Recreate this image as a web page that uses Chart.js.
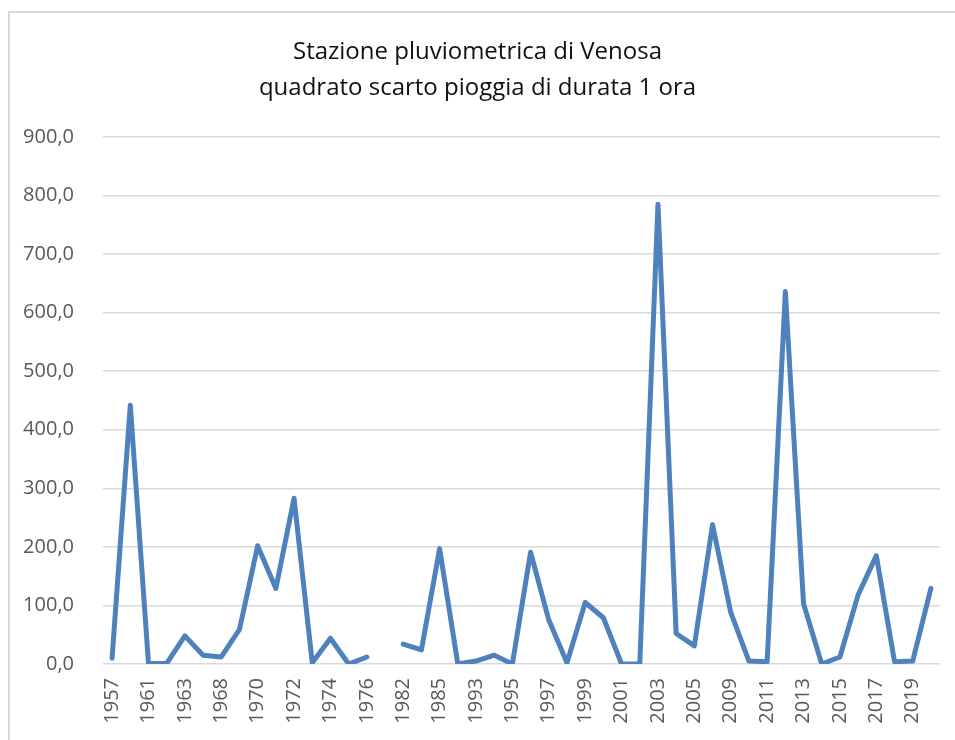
<!DOCTYPE html>
<html>
<head>
<meta charset="utf-8">
<script src="https://cdn.jsdelivr.net/npm/chart.js@4.4.0/dist/chart.umd.min.js"></script>
<style>
  html, body { margin: 0; padding: 0; background: #fff; }
  #wrap { position: relative; width: 955px; height: 740px; overflow: hidden; }
  #frame { position: absolute; left: 8px; top: 11px; width: 960px; height: 760px;
           border-left: 2px solid #d9d9d9; border-top: 2px solid #d9d9d9; }
  #chart { position: absolute; left: 0; top: 0; }
</style>
</head>
<body>
<div id="wrap">
  <div id="frame"></div>
  <canvas id="chart" width="955" height="740"></canvas>
</div>
<script>
// Anni (solo quelli pari in posizione vengono mostrati sull'asse)
const anni = [
  '1957', '1958', '1961', '1962', '1963', '1964', '1968', '1969', '1970', '1971',
  '1972', '1973', '1974', '1975', '1976', '1977', '1982', '1983', '1985', '1986',
  '1993', '1994', '1995', '1996', '1997', '1998', '1999', '2000', '2001', '2002',
  '2003', '2004', '2005', '2006', '2009', '2010', '2011', '2012', '2013', '2014',
  '2015', '2016', '2017', '2018', '2019', '2020'
];

// Quadrato dello scarto
const scartoQuadrato = [
  10, 442, 1, 1, 48, 15, 12, 59, 202, 129,
  283, 2, 44, 0, 12, null, 34, 24, 197, 0,
  5, 15, 0, 191, 75, 2, 105, 79, 0, 0,
  785, 52, 31, 238, 88, 5, 4, 636, 103, 0,
  12, 118, 185, 4, 5, 129
];

const titolo = ['Stazione pluviometrica di Venosa', 'quadrato scarto pioggia di durata 1 ora'];

const font = '"Open Sans", sans-serif';

const ctx = document.getElementById('chart').getContext('2d');
new Chart(ctx, {
  type: 'line',
  data: {
    labels: anni,
    datasets: [{
      data: scartoQuadrato,
      borderColor: '#4f81bd',
      borderWidth: 5,
      pointRadius: 0,
      tension: 0,
      spanGaps: false,
      borderCapStyle: 'round',
      borderJoinStyle: 'round'
    }]
  },
  options: {
    responsive: false,
    animation: false,
    layout: { padding: { left: 15, right: 15, top: 0, bottom: 0 } },
    plugins: {
      legend: { display: false },
      tooltip: { enabled: false },
      title: {
        display: true,
        text: titolo,
        color: '#111',
        font: { family: font, size: 24, weight: 'normal', lineHeight: 1.5 },
        padding: { top: 34, bottom: 31 }
      }
    },
    scales: {
      x: {
        offset: true,
        grid: { display: false, drawTicks: false },
        border: { display: false },
        ticks: {
          autoSkip: false,
          maxRotation: 90,
          minRotation: 90,
          padding: 14,
          color: '#595959',
          font: { family: font, size: 20 },
          callback: function (v, i) { return i % 2 === 0 ? anni[i] : ''; }
        },
        afterFit: function (scale) {
          scale.height = 76;
          scale.paddingLeft = 0;
          scale.paddingRight = 0;
        }
      },
      y: {
        min: 0,
        max: 900,
        grid: { color: '#d9d9d9', lineWidth: 1.5, drawTicks: false },
        border: { display: false },
        ticks: {
          stepSize: 100,
          padding: 29,
          color: '#595959',
          font: { family: font, size: 20 },
          callback: function (v) { return v.toFixed(1).replace('.', ','); }
        },
        afterFit: function (scale) { scale.width = 88; }
      }
    }
  }
});
</script>
</body>
</html>
